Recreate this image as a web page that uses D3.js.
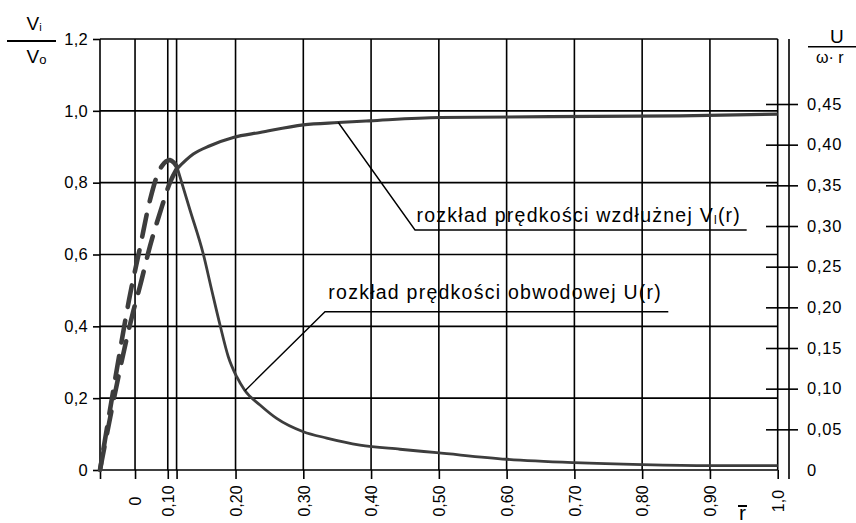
<!DOCTYPE html>
<html><head><meta charset="utf-8">
<script src="https://cdn.jsdelivr.net/npm/d3@7"></script>
<style>
body{margin:0;background:#fff;}
svg text{font-family:"Liberation Sans",Arial,sans-serif;fill:#000;}
</style></head><body>
<svg id="c" width="856" height="523"></svg>
<script>
// ---------- data ----------
const rTickValues = [0, 0.0517, 0.10, 0.113, 0.20, 0.30, 0.40, 0.50, 0.60, 0.70, 0.80, 0.90, 1.0];
const rTickLabels = ["", "0", "0,10", "", "0,20", "0,30", "0,40", "0,50", "0,60", "0,70", "0,80", "0,90", "1,0"];
const leftTickValues = [0, 0.2, 0.4, 0.6, 0.8, 1.0, 1.2];
const leftTickLabels = ["0", "0,2", "0,4", "0,6", "0,8", "1,0", "1,2"];
const rightTickValues = [0, 0.05, 0.10, 0.15, 0.20, 0.25, 0.30, 0.35, 0.40, 0.45];
const rightTickLabels = ["0", "0,05", "0,10", "0,15", "0,20", "0,25", "0,30", "0,35", "0,40", "0,45"];

// longitudinal velocity V_l/V_o (left axis)
const vDashR   = [0, 0.0491, 0.059, 0.0738, 0.091, 0.1033, 0.1132];
const vDashVal = [0, 0.4418, 0.5116, 0.6232, 0.7312, 0.801, 0.838];
const vSolidR   = [0.1132, 0.1377, 0.1623, 0.1967, 0.2361, 0.30, 0.3516, 0.3974, 0.5017, 0.8558, 1.0];
const vSolidVal = [0.838, 0.8797, 0.9028, 0.9258, 0.9397, 0.961, 0.9675, 0.9722, 0.9814, 0.9861, 0.9908];

// circumferential velocity U/(omega r) (right axis)
const uDashR   = [0, 0.0428, 0.0583, 0.0738, 0.0856, 0.0915, 0.0974, 0.1033, 0.109, 0.1136];
const uDashVal = [0, 0.209, 0.2705, 0.332, 0.365, 0.374, 0.3793, 0.381, 0.378, 0.3726];
const uSolidR   = [0.1136, 0.1328, 0.1524, 0.1648, 0.1771, 0.1893, 0.2017, 0.2140, 0.2361, 0.2607, 0.300, 0.3345, 0.3836, 0.4427, 0.4968, 0.600, 0.6994, 0.80, 0.90, 1.0];
const uSolidVal = [0.3726, 0.3197, 0.2656, 0.2213, 0.1783, 0.1393, 0.1147, 0.0975, 0.0800, 0.0635, 0.0471, 0.0393, 0.0307, 0.0255, 0.0213, 0.0132, 0.009, 0.0065, 0.0053, 0.0053];

const label1 = "rozkład prędkości wzdłużnej V";
const label2 = "rozkład prędkości obwodowej U(r)";

// ---------- layout ----------
const svg = d3.select("#c");
const x  = d3.scaleLinear().domain([0, 1]).range([100, 777.7]);
const yL = d3.scaleLinear().domain([0, 1.2]).range([470, 39]);
const yR = d3.scaleLinear().domain([0, 0.45]).range([470, 104]);
const gridW = 1.6, curveCol = "#3d3d3d";
const bottomY = 479;

// horizontal grid
svg.append("g").selectAll("line").data(leftTickValues).join("line")
  .attr("x1", x(0)).attr("x2", x(1))
  .attr("y1", d => yL(d)).attr("y2", d => yL(d))
  .attr("stroke", "#000").attr("stroke-width", gridW);
// vertical grid
svg.append("g").selectAll("line").data(rTickValues).join("line")
  .attr("x1", d => x(d)).attr("x2", d => x(d))
  .attr("y1", yL(1.2)).attr("y2", yL(0))
  .attr("stroke", "#000").attr("stroke-width", gridW);

// left axis
const ax = svg.append("g").attr("transform", `translate(${x(0)},0)`)
  .call(d3.axisLeft(yL).tickValues(leftTickValues)
    .tickFormat((d, i) => leftTickLabels[i]).tickSize(7).tickSizeOuter(0).tickPadding(5));
ax.select(".domain").remove();
ax.selectAll(".tick line").attr("stroke", "#000").attr("stroke-width", gridW);
ax.selectAll(".tick text").attr("font-size", 16.5).attr("letter-spacing", "0.3px")
  .attr("font-family", "Liberation Sans, Arial, sans-serif").attr("fill", "#000");

// bottom axis
const bx = svg.append("g").attr("transform", `translate(0,${yL(0)})`)
  .call(d3.axisBottom(x).tickValues(rTickValues)
    .tickFormat((d, i) => rTickLabels[i]).tickSize(bottomY - yL(0)).tickSizeOuter(0));
bx.select(".domain").remove();
bx.selectAll(".tick line").attr("stroke", "#000").attr("stroke-width", gridW);
bx.selectAll(".tick text")
  .attr("font-size", 16).attr("font-family", "Liberation Sans, Arial, sans-serif").attr("fill", "#000")
  .attr("transform", "rotate(-90)").attr("text-anchor", "middle")
  .attr("x", -31).attr("y", 0).attr("dy", "0.36em");

// right axis
const rAxisX = 789;
svg.append("line").attr("x1", rAxisX).attr("x2", rAxisX).attr("y1", yL(1.2)).attr("y2", bottomY)
  .attr("stroke", "#000").attr("stroke-width", gridW);
const rx = svg.append("g").attr("transform", `translate(${rAxisX},0)`)
  .call(d3.axisRight(yR).tickValues(rightTickValues)
    .tickFormat((d, i) => rightTickLabels[i]).tickSize(9).tickSizeOuter(0).tickPadding(9));
rx.select(".domain").remove();
rx.selectAll(".tick line").attr("stroke", "#000").attr("stroke-width", gridW)
  .attr("x1", -23).attr("x2", 9).filter(d => d === 0).remove();
rx.selectAll(".tick text").attr("font-size", 16.5).attr("letter-spacing", "0.8px")
  .attr("font-family", "Liberation Sans, Arial, sans-serif").attr("fill", "#000");

// curves
const lineL = d3.line().x(d => x(d[0])).y(d => yL(d[1])).curve(d3.curveMonotoneX);
const lineR = d3.line().x(d => x(d[0])).y(d => yR(d[1])).curve(d3.curveMonotoneX);
const lineRc = d3.line().x(d => x(d[0])).y(d => yR(d[1])).curve(d3.curveCatmullRom);
const zip = (a, b) => a.map((v, i) => [v, b[i]]);

svg.append("path").datum(zip(vSolidR, vSolidVal)).attr("d", lineL)
  .attr("fill", "none").attr("stroke", curveCol).attr("stroke-width", 3.2);
svg.append("path").datum(zip(uSolidR, uSolidVal)).attr("d", lineR)
  .attr("fill", "none").attr("stroke", curveCol).attr("stroke-width", 2.8);

const dashOn = 22, dashOff = 14, period = dashOn + dashOff;
function dashed(path) {
  const L = path.node().getTotalLength();
  const off = (((dashOn - L) % period) + period) % period;
  path.attr("stroke-dasharray", `${dashOn} ${dashOff}`).attr("stroke-dashoffset", off);
}
const vd = svg.append("path").datum(zip(vDashR, vDashVal)).attr("d", lineL)
  .attr("fill", "none").attr("stroke", curveCol).attr("stroke-width", 4.6)
  .attr("stroke-linecap", "round");
dashed(vd);
const ud = svg.append("path").datum(zip(uDashR, uDashVal)).attr("d", lineRc)
  .attr("fill", "none").attr("stroke", curveCol).attr("stroke-width", 4.6)
  .attr("stroke-linecap", "round");
dashed(ud);

// annotations
const ann = svg.append("g").attr("fill", "none").attr("stroke", "#000").attr("stroke-width", 1.4);
ann.append("polyline").attr("points", [[x(0.3516), yL(0.9675)], [415, 230], [746.7, 230]].join(" "));
ann.append("polyline").attr("points", [[x(0.214), yR(0.0975)], [325, 311.7], [668.3, 311.7]].join(" "));

const t1 = svg.append("text").attr("x", 416.5).attr("y", 221.5).attr("font-size", 19.5)
  .attr("letter-spacing", "1.25px");
t1.append("tspan").text(label1);
t1.append("tspan").attr("font-size", 12).attr("dy", 2).text("l");
t1.append("tspan").attr("dy", -2).text("(r)");

svg.append("text").attr("x", 328.3).attr("y", 298.5).attr("font-size", 19.5)
  .attr("letter-spacing", "1.25px").text(label2);

// left title V_i / V_o
const lt = svg.append("text").attr("x", 26.5).attr("y", 30).attr("font-size", 19);
lt.append("tspan").text("V");
lt.append("tspan").attr("font-size", 11).attr("dy", 1).text("i");
svg.append("line").attr("x1", 7).attr("x2", 56).attr("y1", 41).attr("y2", 41)
  .attr("stroke", "#000").attr("stroke-width", 1.8);
const lb = svg.append("text").attr("x", 26.5).attr("y", 63).attr("font-size", 19);
lb.append("tspan").text("V");
lb.append("tspan").attr("font-size", 13).attr("dy", 1).text("o");

// right title U / (ω·r)
svg.append("text").attr("x", 830).attr("y", 43).attr("font-size", 19).text("U");
svg.append("line").attr("x1", 808).attr("x2", 856).attr("y1", 46.7).attr("y2", 46.7)
  .attr("stroke", "#000").attr("stroke-width", 1.6);
svg.append("text").attr("x", 816).attr("y", 63).attr("font-size", 16).text("ω· r");

// r-bar axis label
svg.append("text").attr("x", 739).attr("y", 520).attr("font-size", 21).text("r");
svg.append("line").attr("x1", 738).attr("x2", 747).attr("y1", 506).attr("y2", 506)
  .attr("stroke", "#000").attr("stroke-width", 2);
</script>
</body></html>
